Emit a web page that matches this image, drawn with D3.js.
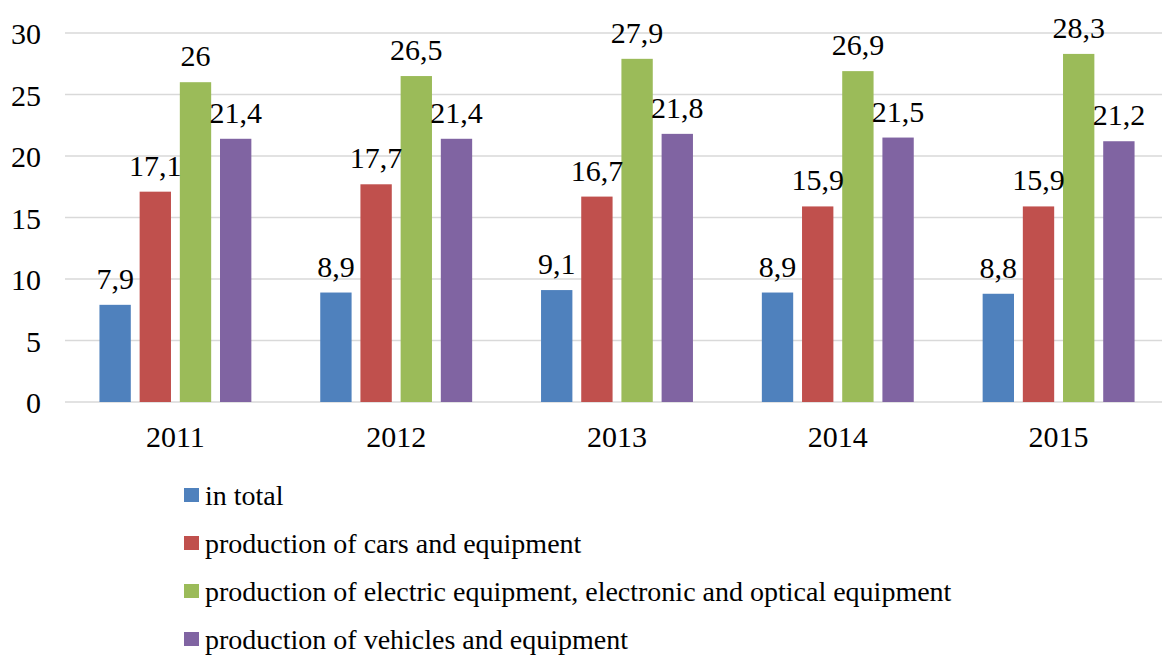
<!DOCTYPE html>
<html>
<head>
<meta charset="utf-8">
<script src="https://cdn.jsdelivr.net/npm/d3@7"></script>
<style>
  body { margin: 0; background: #fff; }
  #chart text { font-family: "Liberation Serif", "Times New Roman", serif !important; }
</style>
</head>
<body>
<svg id="chart" width="1162" height="655" font-family="Liberation Serif"></svg>
<script>
const years = ["2011", "2012", "2013", "2014", "2015"];
const seriesNames = [
  "in total",
  "production of cars and equipment",
  "production of electric equipment, electronic and optical equipment",
  "production of vehicles and equipment"
];
const inTotal = [7.9, 8.9, 9.1, 8.9, 8.8];
const cars = [17.1, 17.7, 16.7, 15.9, 15.9];
const electric = [26, 26.5, 27.9, 26.9, 28.3];
const vehicles = [21.4, 21.4, 21.8, 21.5, 21.2];
const colors = ["#4f81bd", "#c0504d", "#9bbb59", "#8064a2"];
const yTicks = [0, 5, 10, 15, 20, 25, 30];

const values = [inTotal, cars, electric, vehicles];
const svg = d3.select("#chart");
const fontA = '"Liberation Serif", serif';

const plotLeft = 65, plotRight = 1169, plotTop = 33, plotBottom = 402;

const y = d3.scaleLinear().domain([0, 30]).range([plotBottom, plotTop]);
const x0 = d3.scaleBand().domain(years).range([plotLeft, plotRight]).paddingInner(0.312).paddingOuter(0.156);
const x1 = d3.scaleBand().domain(d3.range(4)).range([0, x0.bandwidth()]).paddingInner(0.22);

// gridlines
svg.append("g")
  .selectAll("line")
  .data(yTicks)
  .join("line")
  .attr("x1", plotLeft)
  .attr("x2", plotRight)
  .attr("y1", d => y(d))
  .attr("y2", d => y(d))
  .attr("stroke", "#d9d9d9")
  .attr("stroke-width", 1.5);

// y tick labels
svg.append("g")
  .selectAll("text")
  .data(yTicks)
  .join("text")
  .attr("x", 41)
  .attr("y", d => y(d) + 11)
  .attr("text-anchor", "end")
  .style("font-family", fontA)
  .style("font-size", "30px")
  .text(d => d);

// bars
const groups = svg.append("g")
  .selectAll("g")
  .data(years)
  .join("g")
  .attr("transform", d => `translate(${x0(d)},0)`);

groups.selectAll("rect")
  .data((d, i) => values.map((s, k) => ({ k: k, v: s[i] })))
  .join("rect")
  .attr("x", d => x1(d.k))
  .attr("y", d => y(d.v))
  .attr("width", x1.bandwidth())
  .attr("height", d => plotBottom - y(d.v))
  .attr("fill", d => colors[d.k]);

groups.selectAll("text")
  .data((d, i) => values.map((s, k) => ({ k: k, v: s[i] })))
  .join("text")
  .attr("x", d => x1(d.k) + x1.bandwidth() / 2)
  .attr("y", d => y(d.v) - 16)
  .attr("text-anchor", "middle")
  .style("font-family", fontA)
  .style("font-size", "30px")
  .text(d => String(d.v).replace(".", ","));

// x labels
svg.append("g")
  .selectAll("text")
  .data(years)
  .join("text")
  .attr("x", d => x0(d) + x0.bandwidth() / 2)
  .attr("y", 447)
  .attr("text-anchor", "middle")
  .style("font-family", fontA)
  .style("font-size", "30px")
  .text(d => d);

// legend
const legend = svg.append("g")
  .selectAll("g")
  .data(seriesNames)
  .join("g")
  .attr("transform", (d, i) => `translate(184,${505 + i * 48})`);

legend.append("rect")
  .attr("x", 0)
  .attr("y", -17)
  .attr("width", 15)
  .attr("height", 14)
  .attr("fill", (d, i) => colors[i]);

legend.append("text")
  .attr("x", 21)
  .attr("y", 0)
  .style("font-family", fontA)
  .style("font-size", "28px")
  .text(d => d);
</script>
</body>
</html>
